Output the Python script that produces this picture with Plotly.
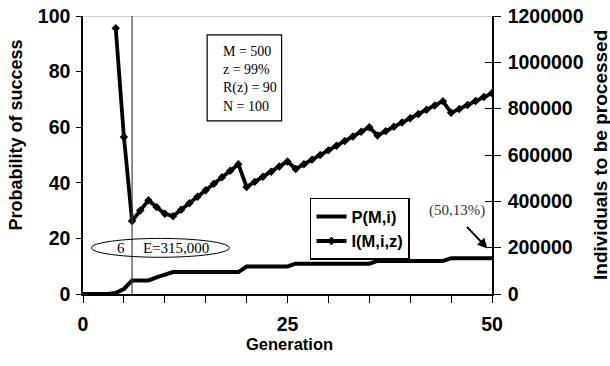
import plotly.graph_objects as go

# ---- data ----
gen_p = list(range(0, 51))
prob_success = [0, 0, 0, 0, 0.4, 1.8, 4.9, 4.9, 4.9, 6.0, 7.0, 7.9,
                7.9, 7.9, 7.9, 7.9, 7.9, 7.9, 7.9, 7.9,
                9.9, 9.9, 9.9, 9.9, 9.9, 9.9,
                10.9, 10.9, 10.9, 10.9, 10.9, 10.9, 10.9, 10.9, 10.9, 10.9,
                11.9, 11.9, 11.9, 11.9, 11.9, 11.9, 11.9, 11.9, 11.9,
                12.9, 12.9, 12.9, 12.9, 12.9, 12.9]

gen_i = list(range(4, 51))
individuals = [1147500, 678000, 315000, 360000, 405000, 375000, 346500, 336000,
               364000, 392000, 420000, 448000, 476000, 504000, 532000, 560000,
               462000, 484000, 506000, 528000, 550000, 572000,
               540000, 560000, 580000, 600000, 620000, 640000, 660000, 680000, 700000, 720000,
               684500, 703000, 721500, 740000, 758500, 777000, 795500, 814000, 832500,
               782000, 799000, 816000, 833000, 850000, 867000]

x_tickvals = [0, 25, 50]
y_left_ticks = [0, 20, 40, 60, 80, 100]
y_right_ticks = [0, 200000, 400000, 600000, 800000, 1000000, 1200000]

x_title = "Generation"
y_left_title = "Probability of success"
y_right_title = "Individuals to be processed"
params_text = "M = 500<br>z = 99%<br>R(z) = 90<br>N = 100"
marker_gen = 6
marker_label_a = "6"
marker_label_b = "E=315,000"
end_label = "(50,13%)"

SANS = "Liberation Sans, Arial, sans-serif"
SERIF = "Liberation Serif, Times New Roman, serif"

fig = go.Figure()
fig.add_trace(go.Scatter(x=gen_p, y=prob_success, mode="lines", name="P(M,i)",
                         line=dict(color="black", width=4), yaxis="y"))
fig.add_trace(go.Scatter(x=gen_i, y=individuals, mode="lines+markers", name="I(M,i,z)",
                         line=dict(color="black", width=3.8),
                         marker=dict(symbol="diamond", size=6.5, color="black"),
                         yaxis="y2"))
# invisible trace for the inner right-axis ticks
fig.add_trace(go.Scatter(x=[0], y=[0], mode="markers", marker=dict(opacity=0),
                         showlegend=False, hoverinfo="skip", yaxis="y3"))

tickfont = dict(family=SANS, size=19.5, color="black", weight="bold")

fig.update_layout(
    width=610, height=366,
    margin=dict(l=83, r=118, t=16, b=72),
    paper_bgcolor="white", plot_bgcolor="white",
    showlegend=True,
    legend=dict(x=0.555, y=0.346, xanchor="left", yanchor="top",
                bordercolor="black", borderwidth=1.5, bgcolor="white",
                font=dict(family=SANS, size=16.5, color="black", weight="bold"),
                tracegroupgap=0),
    xaxis=dict(range=[0, 50], tickvals=x_tickvals, ticks="outside", ticklen=7,
               tickcolor="black", tickwidth=1.2, automargin=False,
               ticklabeloverflow="allow",
               minor=dict(dtick=5, tick0=0, ticks="outside", ticklen=7,
                          tickcolor="black", tickwidth=1.2),
               showline=True, linecolor="black", linewidth=1.5,
               showgrid=False, zeroline=False, tickfont=tickfont,
               ticklabelstandoff=5),
    yaxis=dict(range=[0, 100], tickvals=y_left_ticks, ticks="outside", ticklen=5,
               tickcolor="black", tickwidth=1.2, automargin=False,
               ticklabeloverflow="allow",
               showline=True, linecolor="black", linewidth=1.5,
               showgrid=False, zeroline=False, tickfont=tickfont,
               ticklabelstandoff=2),
    yaxis2=dict(range=[0, 1200000], tickvals=y_right_ticks, tickformat="d",
                overlaying="y", side="right", anchor="x", automargin=False,
                ticklabeloverflow="allow",
                ticks="outside", ticklen=7, tickcolor="black", tickwidth=1.2,
                showline=True, linecolor="black", linewidth=1.5,
                showgrid=False, zeroline=False, tickfont=tickfont,
                ticklabelstandoff=3),
    yaxis3=dict(range=[0, 1200000], tickvals=y_right_ticks, overlaying="y",
                side="right", anchor="x", ticks="inside", ticklen=7, automargin=False,
                tickcolor="black", tickwidth=1.2, showticklabels=False,
                showline=False, showgrid=False, zeroline=False),
)

# axis titles
fig.add_annotation(x=0.506, y=-0.18, xref="paper", yref="paper", text=x_title,
                   showarrow=False, xanchor="center", yanchor="middle",
                   font=dict(family=SANS, size=16.5, color="black", weight="bold"))
fig.add_annotation(x=-0.165, y=0.572, xref="paper", yref="paper", text=y_left_title,
                   showarrow=False, textangle=-90, xanchor="center", yanchor="middle",
                   font=dict(family=SANS, size=18, color="black", weight="bold"))
fig.add_annotation(x=1.264, y=0.5, xref="paper", yref="paper", text=y_right_title,
                   showarrow=False, textangle=-90, xanchor="center", yanchor="middle",
                   font=dict(family=SANS, size=19, color="black", weight="bold"))

# top border (gray) and vertical marker line
fig.add_shape(type="line", xref="x", yref="y", x0=0, x1=50, y0=100, y1=100,
              line=dict(color="#a0a0a0", width=1.2))
fig.add_shape(type="line", xref="x", yref="y", x0=marker_gen, x1=marker_gen, y0=0, y1=100,
              line=dict(color="#444444", width=1.2))
# ellipse around E label
fig.add_shape(type="circle", xref="x", yref="y", x0=1.0, x1=17.9, y0=13.2, y1=20.0,
              line=dict(color="black", width=1))

fig.add_annotation(x=4.6, y=16.6, xref="x", yref="y", text=marker_label_a, showarrow=False,
                   font=dict(family=SERIF, size=15, color="black"))
fig.add_annotation(x=7.1, y=16.6, xref="x", yref="y", text=marker_label_b, showarrow=False,
                   xanchor="left", font=dict(family=SERIF, size=15, color="black"))

# parameters box
fig.add_shape(type="rect", xref="x", yref="y", x0=15.18, x1=24.28, y0=62.3, y1=93.2,
              line=dict(color="black", width=1.2), fillcolor="white", layer="below")
fig.add_annotation(x=16.9, y=77.4, xref="x", yref="y", text=params_text, showarrow=False,
                   align="left", xanchor="left",
                   font=dict(family=SERIF, size=14, color="black"))

# end label and arrow
fig.add_annotation(x=45.7, y=30.2, xref="x", yref="y", text=end_label, showarrow=False,
                   font=dict(family=SERIF, size=15, color="#333333"))
fig.add_annotation(x=49.45, y=16.4, xref="x", yref="y", text="", showarrow=True,
                   ax=-22, ay=-23, arrowhead=2, arrowsize=1, arrowwidth=2,
                   arrowcolor="black")

# remove the default 8px page margin so the figure fills the window exactly
fig.write_html("out.html", config={"displayModeBar": False},
               post_script="document.body.style.margin='0px';")
